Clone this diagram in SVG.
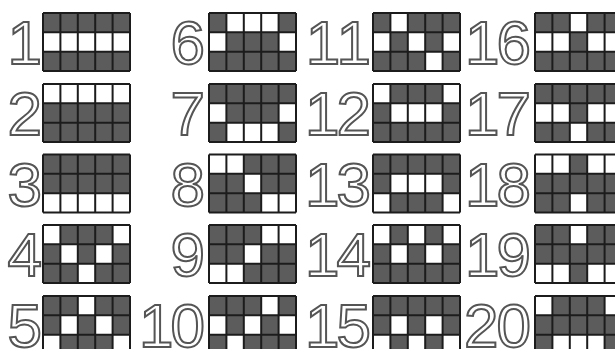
<svg xmlns="http://www.w3.org/2000/svg" xmlns:xlink="http://www.w3.org/1999/xlink" width="615" height="349" viewBox="0 0 615 349">
<style>
.num{font-family:"Liberation Sans",Arial,sans-serif;font-size:62px;fill:#fff;stroke:#555;stroke-width:2px;text-anchor:end}
.bg{fill:#5c5c5c}
</style>
<defs>
<rect id="w" width="17.4" height="19.33" fill="#fff"/>
<path id="L" d="M0,0V58M17.4,0V58M34.8,0V58M52.2,0V58M69.6,0V58M87,0V58M0,0H87M0,19.33H87M0,38.67H87M0,58H87" fill="none" stroke="#1c1c1c" stroke-width="2"/>
</defs>
<rect width="615" height="349" fill="#fff"/>
<g id="connectors"></g>

<!-- column 1 -->
<g id="n1" transform="translate(43,13)">
<text class="num" x="-1" y="51">1</text>
<rect class="bg" width="87" height="58"/>
<use href="#w" x="0" y="19.33"/><use href="#w" x="17.4" y="19.33"/><use href="#w" x="34.8" y="19.33"/><use href="#w" x="52.2" y="19.33"/><use href="#w" x="69.6" y="19.33"/>
<use href="#L"/>
</g>
<g id="n2" transform="translate(43,84)">
<text class="num" x="-1" y="51">2</text>
<rect class="bg" width="87" height="58"/>
<use href="#w" x="0" y="0"/><use href="#w" x="17.4" y="0"/><use href="#w" x="34.8" y="0"/><use href="#w" x="52.2" y="0"/><use href="#w" x="69.6" y="0"/>
<use href="#L"/>
</g>
<g id="n3" transform="translate(43,154.5)">
<text class="num" x="-1" y="51">3</text>
<rect class="bg" width="87" height="58"/>
<use href="#w" x="0" y="38.67"/><use href="#w" x="17.4" y="38.67"/><use href="#w" x="34.8" y="38.67"/><use href="#w" x="52.2" y="38.67"/><use href="#w" x="69.6" y="38.67"/>
<use href="#L"/>
</g>
<g id="n4" transform="translate(43,225)">
<text class="num" x="-1" y="51">4</text>
<rect class="bg" width="87" height="58"/>
<use href="#w" x="0" y="0"/><use href="#w" x="69.6" y="0"/>
<use href="#w" x="17.4" y="19.33"/><use href="#w" x="52.2" y="19.33"/>
<use href="#w" x="34.8" y="38.67"/>
<use href="#L"/>
</g>
<g id="n5" transform="translate(43,296)">
<text class="num" x="-1" y="50.5">5</text>
<rect class="bg" width="87" height="58"/>
<use href="#w" x="34.8" y="0"/>
<use href="#w" x="17.4" y="19.33"/><use href="#w" x="52.2" y="19.33"/>
<use href="#w" x="0" y="38.67"/><use href="#w" x="69.6" y="38.67"/>
<use href="#L"/>
</g>

<!-- column 2 -->
<g id="n6" transform="translate(209,13)">
<text class="num" x="-4" y="51">6</text>
<rect class="bg" width="87" height="58"/>
<use href="#w" x="17.4" y="0"/><use href="#w" x="34.8" y="0"/><use href="#w" x="52.2" y="0"/>
<use href="#w" x="0" y="19.33"/><use href="#w" x="69.6" y="19.33"/>
<use href="#L"/>
</g>
<g id="n7" transform="translate(209,84)">
<text class="num" x="-4" y="51">7</text>
<rect class="bg" width="87" height="58"/>
<use href="#w" x="0" y="19.33"/><use href="#w" x="69.6" y="19.33"/>
<use href="#w" x="17.4" y="38.67"/><use href="#w" x="34.8" y="38.67"/><use href="#w" x="52.2" y="38.67"/>
<use href="#L"/>
</g>
<g id="n8" transform="translate(209,154.5)">
<text class="num" x="-4" y="51">8</text>
<rect class="bg" width="87" height="58"/>
<use href="#w" x="0" y="0"/><use href="#w" x="17.4" y="0"/>
<use href="#w" x="34.8" y="19.33"/>
<use href="#w" x="52.2" y="38.67"/><use href="#w" x="69.6" y="38.67"/>
<use href="#L"/>
</g>
<g id="n9" transform="translate(209,225)">
<text class="num" x="-4" y="51">9</text>
<rect class="bg" width="87" height="58"/>
<use href="#w" x="52.2" y="0"/><use href="#w" x="69.6" y="0"/>
<use href="#w" x="34.8" y="19.33"/>
<use href="#w" x="0" y="38.67"/><use href="#w" x="17.4" y="38.67"/>
<use href="#L"/>
</g>
<g id="n10" transform="translate(209,296)">
<text class="num" x="-4" y="50.5">1<tspan dx="-3">0</tspan></text>
<rect class="bg" width="87" height="58"/>
<use href="#w" x="52.2" y="0"/>
<use href="#w" x="0" y="19.33"/><use href="#w" x="34.8" y="19.33"/><use href="#w" x="69.6" y="19.33"/>
<use href="#w" x="17.4" y="38.67"/>
<use href="#L"/>
</g>

<!-- column 3 -->
<g id="n11" transform="translate(373,13)">
<text class="num" x="-2" y="51">1<tspan dx="1">1</tspan></text>
<rect class="bg" width="87" height="58"/>
<use href="#w" x="17.4" y="0"/>
<use href="#w" x="0" y="19.33"/><use href="#w" x="34.8" y="19.33"/><use href="#w" x="69.6" y="19.33"/>
<use href="#w" x="52.2" y="38.67"/>
<use href="#L"/>
</g>
<g id="n12" transform="translate(373,84)">
<text class="num" x="-2" y="51">1<tspan dx="-3">2</tspan></text>
<rect class="bg" width="87" height="58"/>
<use href="#w" x="0" y="0"/><use href="#w" x="69.6" y="0"/>
<use href="#w" x="17.4" y="19.33"/><use href="#w" x="34.8" y="19.33"/><use href="#w" x="52.2" y="19.33"/>
<use href="#L"/>
</g>
<g id="n13" transform="translate(373,154.5)">
<text class="num" x="-2" y="51">1<tspan dx="-3">3</tspan></text>
<rect class="bg" width="87" height="58"/>
<use href="#w" x="17.4" y="19.33"/><use href="#w" x="34.8" y="19.33"/><use href="#w" x="52.2" y="19.33"/>
<use href="#w" x="0" y="38.67"/><use href="#w" x="69.6" y="38.67"/>
<use href="#L"/>
</g>
<g id="n14" transform="translate(373,225)">
<text class="num" x="-2" y="51">1<tspan dx="-3">4</tspan></text>
<rect class="bg" width="87" height="58"/>
<use href="#w" x="0" y="0"/><use href="#w" x="34.8" y="0"/><use href="#w" x="69.6" y="0"/>
<use href="#w" x="17.4" y="19.33"/><use href="#w" x="52.2" y="19.33"/>
<use href="#L"/>
</g>
<g id="n15" transform="translate(373,296)">
<text class="num" x="-2" y="50.5">1<tspan dx="-3">5</tspan></text>
<rect class="bg" width="87" height="58"/>
<use href="#w" x="17.4" y="19.33"/><use href="#w" x="52.2" y="19.33"/>
<use href="#w" x="0" y="38.67"/><use href="#w" x="34.8" y="38.67"/><use href="#w" x="69.6" y="38.67"/>
<use href="#L"/>
</g>

<!-- column 4 -->
<g id="n16" transform="translate(535,13)">
<text class="num" x="-4" y="51">1<tspan dx="-3">6</tspan></text>
<rect class="bg" width="87" height="58"/>
<use href="#w" x="34.8" y="0"/>
<use href="#w" x="0" y="19.33"/><use href="#w" x="17.4" y="19.33"/><use href="#w" x="52.2" y="19.33"/><use href="#w" x="69.6" y="19.33"/>
<use href="#L"/>
</g>
<g id="n17" transform="translate(535,84)">
<text class="num" x="-4" y="51">1<tspan dx="-3">7</tspan></text>
<rect class="bg" width="87" height="58"/>
<use href="#w" x="0" y="19.33"/><use href="#w" x="17.4" y="19.33"/><use href="#w" x="52.2" y="19.33"/><use href="#w" x="69.6" y="19.33"/>
<use href="#w" x="34.8" y="38.67"/>
<use href="#L"/>
</g>
<g id="n18" transform="translate(535,154.5)">
<text class="num" x="-4" y="51">1<tspan dx="-3">8</tspan></text>
<rect class="bg" width="87" height="58"/>
<use href="#w" x="0" y="0"/><use href="#w" x="17.4" y="0"/><use href="#w" x="52.2" y="0"/><use href="#w" x="69.6" y="0"/>
<use href="#w" x="34.8" y="38.67"/>
<use href="#L"/>
</g>
<g id="n19" transform="translate(535,225)">
<text class="num" x="-4" y="51">1<tspan dx="-3">9</tspan></text>
<rect class="bg" width="87" height="58"/>
<use href="#w" x="34.8" y="0"/>
<use href="#w" x="0" y="38.67"/><use href="#w" x="17.4" y="38.67"/><use href="#w" x="52.2" y="38.67"/><use href="#w" x="69.6" y="38.67"/>
<use href="#L"/>
</g>
<g id="n20" transform="translate(535,296)">
<text class="num" x="-4" y="50.5">2<tspan dx="-2">0</tspan></text>
<rect class="bg" width="87" height="58"/>
<use href="#w" x="0" y="0"/><use href="#w" x="69.6" y="0"/>
<use href="#w" x="17.4" y="38.67"/><use href="#w" x="34.8" y="38.67"/><use href="#w" x="52.2" y="38.67"/>
<use href="#L"/>
</g>
</svg>
